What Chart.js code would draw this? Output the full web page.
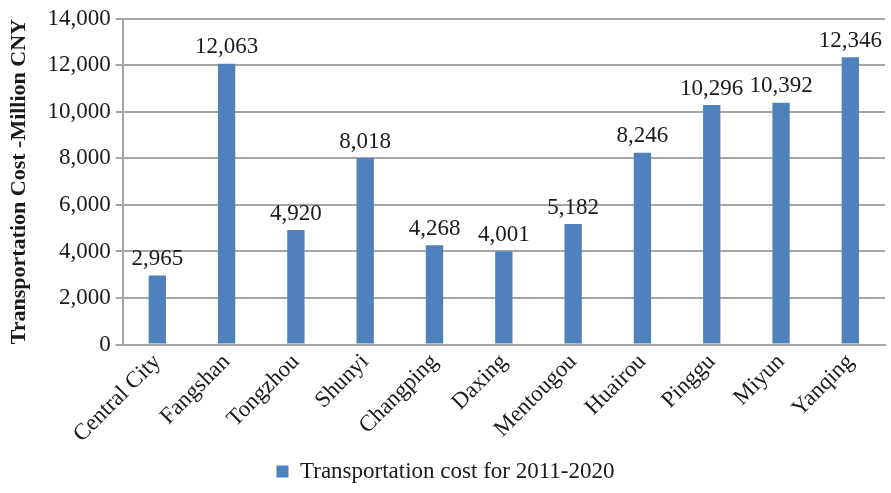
<!DOCTYPE html>
<html>
<head>
<meta charset="utf-8">
<script src="https://cdn.jsdelivr.net/npm/chart.js@4/dist/chart.umd.min.js"></script>
<style>
  html, body { margin: 0; padding: 0; background: #fff; }
  #wrap { width: 891px; height: 493px; }
</style>
</head>
<body>
<div id="wrap"><canvas id="chart"></canvas></div>
<script>
// ── Données ──────────────────────────────────────────────────────────────
var districts = ['Central City', 'Fangshan', 'Tongzhou', 'Shunyi', 'Changping', 'Daxing',
                 'Mentougou', 'Huairou', 'Pinggu', 'Miyun', 'Yanqing'];
var costs     = [2965, 12063, 4920, 8018, 4268, 4001, 5182, 8246, 10296, 10392, 12346];
var seriesName = 'Transportation cost for 2011-2020';
var yTitle     = 'Transportation Cost -Million CNY';

var FONT = '"Liberation Serif", "Times New Roman", serif';

function fmt(v) {
    return v.toLocaleString('en-US');
}

// ── Étiquettes de valeurs au-dessus des barres ──────────────────────────
var valueLabels = {
    id: 'valueLabels',
    afterDatasetsDraw: function (chart) {
        var ctx = chart.ctx;
        var meta = chart.getDatasetMeta(0);
        ctx.save();
        ctx.font = '23px ' + FONT;
        ctx.fillStyle = '#1a1a1a';
        ctx.textAlign = 'center';
        ctx.textBaseline = 'bottom';
        meta.data.forEach(function (bar, i) {
            ctx.fillText(fmt(costs[i]), bar.x, bar.y - 5);
        });
        ctx.restore();
    }
};

new Chart(document.getElementById('chart').getContext('2d'), {
    type: 'bar',
    data: {
        labels: districts,
        datasets: [{
            label: seriesName,
            data: costs,
            backgroundColor: '#4F81BD',
            borderWidth: 0,
            barPercentage: 0.5,
            categoryPercentage: 0.5
        }]
    },
    plugins: [valueLabels],
    options: {
        responsive: true,
        maintainAspectRatio: false,
        animation: false,
        layout: { padding: { top: 2, right: 6, left: 6, bottom: 0 } },
        plugins: {
            legend: {
                position: 'bottom',
                labels: {
                    font: { family: FONT, size: 23 },
                    color: '#1a1a1a',
                    boxWidth: 12,
                    boxHeight: 12,
                    padding: 8
                }
            },
            tooltip: { enabled: false }
        },
        scales: {
            x: {
                grid: { display: false, drawTicks: false },
                border: { display: true, color: '#a6a6a6', width: 2 },
                ticks: {
                    font: { family: FONT, size: 23 },
                    color: '#1a1a1a',
                    minRotation: 45,
                    maxRotation: 45,
                    padding: 4
                }
            },
            y: {
                min: 0,
                max: 14000,
                ticks: {
                    stepSize: 2000,
                    font: { family: FONT, size: 23 },
                    color: '#1a1a1a',
                    padding: 5,
                    callback: function (v) { return fmt(v); }
                },
                grid: { color: '#a6a6a6', lineWidth: 2, tickLength: 7 },
                border: { display: true, color: '#a6a6a6', width: 2 },
                title: {
                    display: true,
                    text: yTitle,
                    font: { family: FONT, size: 22, weight: 'bold' },
                    color: '#1a1a1a',
                    padding: { top: 0, bottom: 10 }
                }
            }
        }
    }
});
</script>
</body>
</html>
